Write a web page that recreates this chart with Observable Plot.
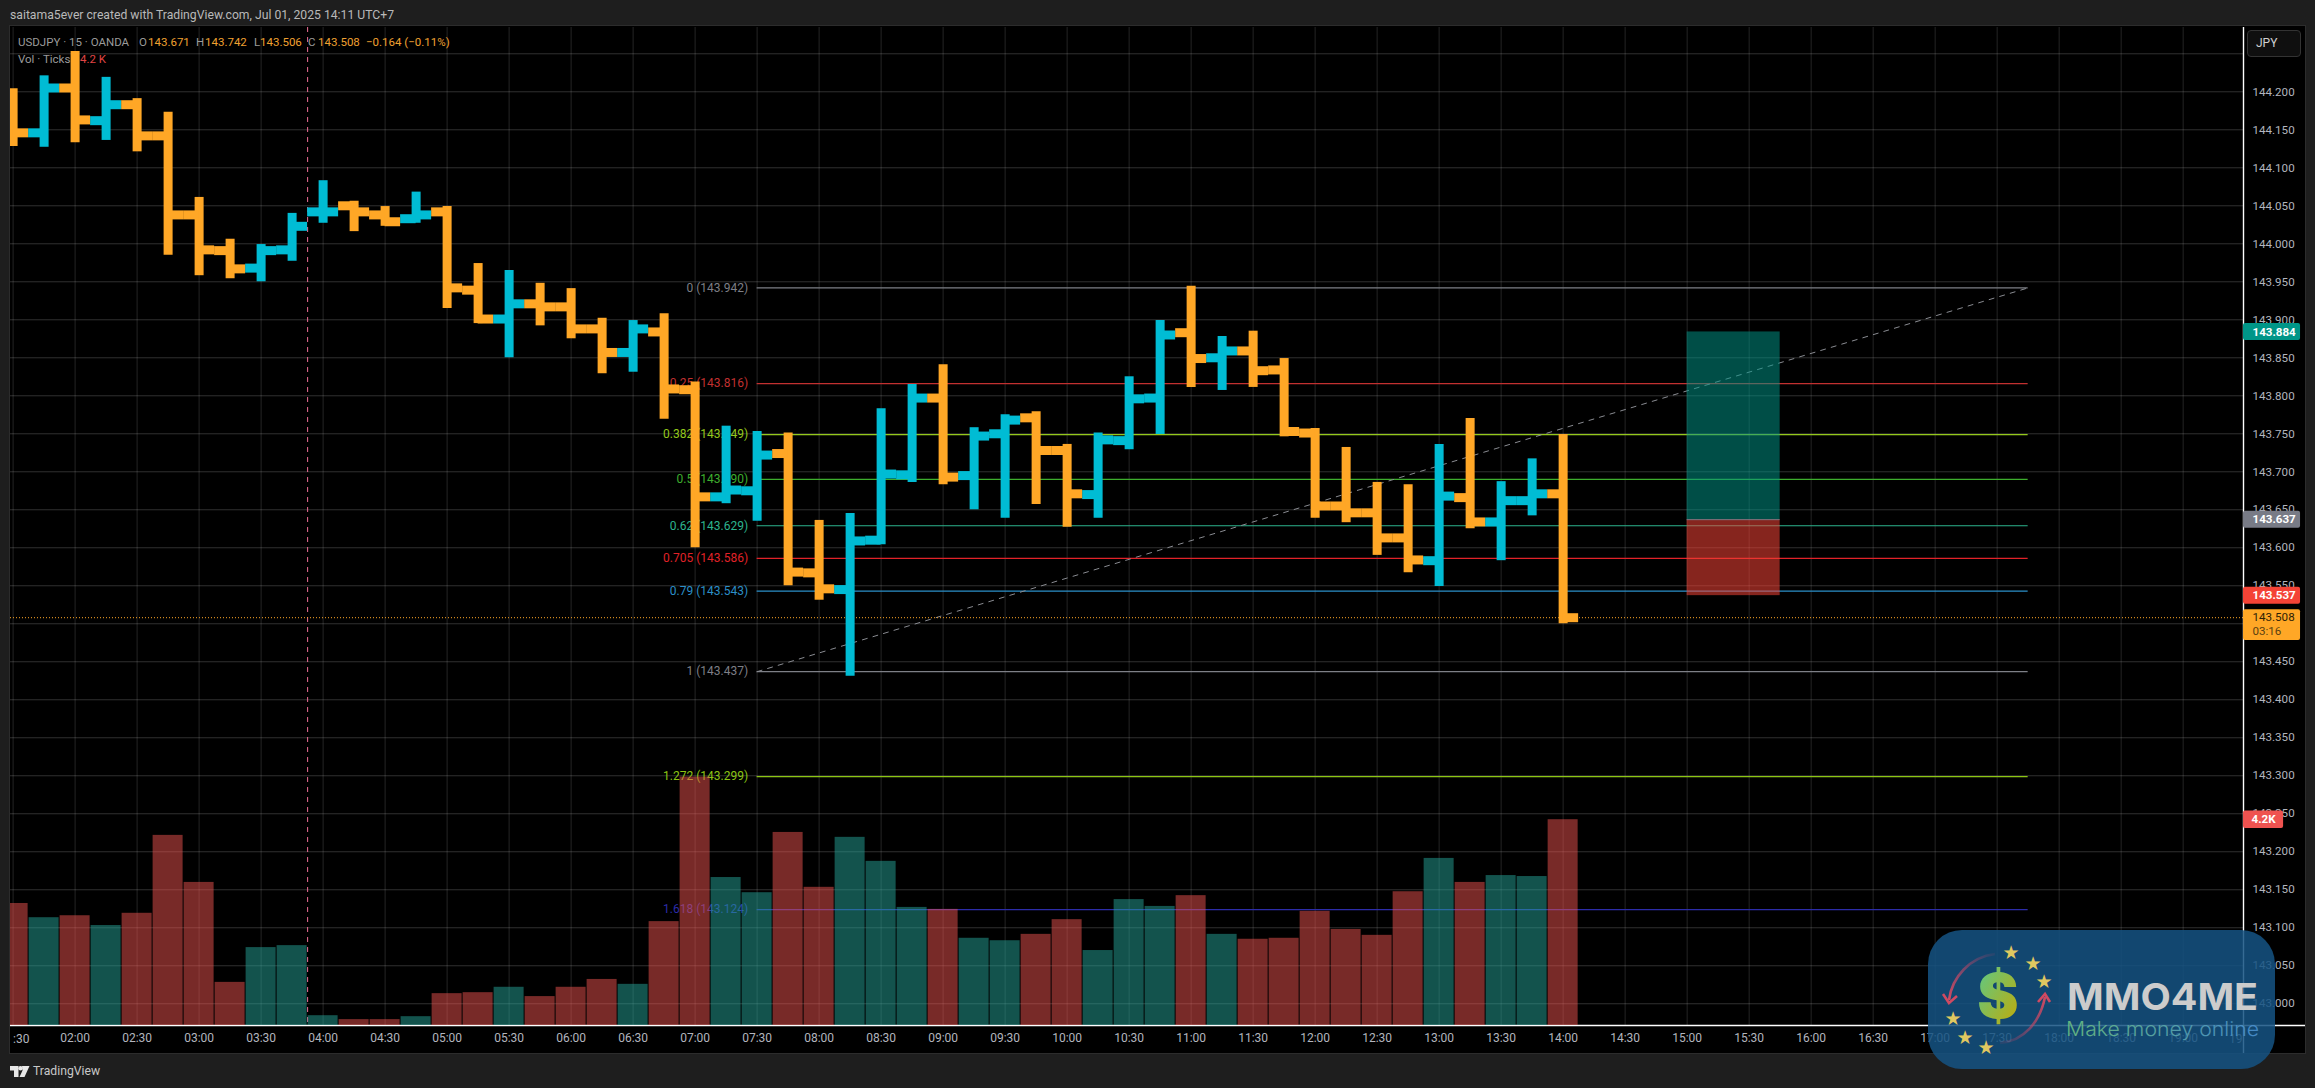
<!DOCTYPE html>
<html>
<head>
<meta charset="utf-8">
<script src="https://cdn.jsdelivr.net/npm/d3@7"></script>
<script src="https://cdn.jsdelivr.net/npm/@observablehq/plot@0.6"></script>
<style>
html,body{margin:0;padding:0;background:#1e1e1e;width:2315px;height:1088px;overflow:hidden;font-family:Roboto,sans-serif}
#head{height:26px;line-height:30px;padding-left:10px;font-size:12.2px;color:#b9b9b9;white-space:nowrap}
#wrap{position:relative;margin-left:10px;width:2295px;height:1027px;background:#000;overflow:hidden;box-shadow:0 0 0 1px #2c2c2c}
#wrap svg.plot{position:absolute;left:0;top:0;background:transparent}
.lg{position:absolute;font-size:11.5px;white-space:nowrap;line-height:14px;color:#9b9b9b}
.or{color:#f0a030}.rd{color:#e04444}
#jpy{position:absolute;left:2237px;top:4px;width:52px;height:25px;border:1px solid #333;border-radius:4px;background:#0f0f0f;color:#d0d0d0;font-size:12px;line-height:25px;text-indent:8px}
#foot{position:absolute;left:10px;top:1063px;height:16px;display:flex;align-items:center;gap:3px;color:#c8c8c8;font-size:12.2px}
#mark{position:absolute;left:1928px;top:930px;width:347px;height:139px}
</style>
</head>
<body>
<div id="head">saitama5ever created with TradingView.com, Jul 01, 2025 14:11 UTC+7</div>
<div id="wrap"></div>
<div id="foot"><svg width="20" height="11" viewBox="0 0 20 11"><path d="M0 0H8.5V11H4V4.5H0ZM12 0H19.5L14.5 11H9.5L12.5 4.5 Z" fill="#e8e8e8"/><circle cx="10.5" cy="2.2" r="2.2" fill="#e8e8e8"/></svg><span>TradingView</span></div>
<svg id="mark" viewBox="0 0 347 139">
  <defs>
    <linearGradient id="g1" x1="0" y1="0" x2="1" y2="1"><stop offset="0" stop-color="#55cc90"/><stop offset="1" stop-color="#c8a800"/></linearGradient>
    <linearGradient id="g2" x1="0" y1="0" x2="1" y2="0"><stop offset="0" stop-color="#6cc080"/><stop offset="1" stop-color="#4a8fd0"/></linearGradient>
    <linearGradient id="g3" x1="1" y1="0" x2="0" y2="1"><stop offset="0" stop-color="#c8466a" stop-opacity=".1"/><stop offset="1" stop-color="#d04a62"/></linearGradient>
    <linearGradient id="g4" x1="0" y1="1" x2="1" y2="0"><stop offset="0" stop-color="#c8466a" stop-opacity=".1"/><stop offset="1" stop-color="#d04a62"/></linearGradient>
  </defs>
  <rect width="347" height="139" rx="34" fill="#155382" fill-opacity=".86"/>
  <path d="M67 24 C42 27 24 47 21 70" fill="none" stroke="url(#g3)" stroke-width="2.6"/>
  <path d="M15 64 L21 73 L29 66" fill="none" stroke="#d04a62" stroke-width="2.6"/>
  <path d="M72 113 C96 111 112 92 117 67" fill="none" stroke="url(#g4)" stroke-width="2.6"/>
  <path d="M110 72 L117 64 L122 72" fill="none" stroke="#d04a62" stroke-width="2.6"/>
  <text x="70" y="88" text-anchor="middle" font-family="Inter,Roboto,sans-serif" font-weight="900" font-size="62" fill="url(#g1)">$</text>
  <g fill="#e0c860" font-size="19" text-anchor="middle" font-family="DejaVu Sans">
    <text x="83" y="29">★</text><text x="105" y="40">★</text><text x="116" y="58">★</text>
    <text x="25" y="95">★</text><text x="37" y="114">★</text><text x="58" y="124">★</text>
  </g>
  <text x="139" y="80" font-family="Inter,Roboto,sans-serif" font-weight="700" font-size="37" fill="#cccccc" textLength="191" lengthAdjust="spacingAndGlyphs">MMO4ME</text>
  <text x="138" y="106" font-family="Inter,Roboto,sans-serif" font-weight="300" font-size="20" fill="url(#g2)" fill-opacity=".9" textLength="193" lengthAdjust="spacingAndGlyphs">Make money online</text>
</svg>
<script>
// ---- data ----
const times = ["01:30","01:45","02:00","02:15","02:30","02:45","03:00","03:15","03:30","03:45",
  "04:00","04:15","04:30","04:45","05:00","05:15","05:30","05:45","06:00","06:15","06:30","06:45",
  "07:00","07:15","07:30","07:45","08:00","08:15","08:30","08:45","09:00","09:15","09:30","09:45",
  "10:00","10:15","10:30","10:45","11:00","11:15","11:30","11:45","12:00","12:15","12:30","12:45",
  "13:00","13:15","13:30","13:45","14:00"];
const opens = [144.153,144.146,144.205,144.162,144.183,144.142,144.038,143.991,143.968,143.992,
  144.042,144.050,144.038,144.033,144.042,143.939,143.901,143.921,143.917,143.888,143.857,143.884,
  143.808,143.667,143.675,143.724,143.567,143.545,143.610,143.696,143.797,143.695,143.750,143.771,
  143.728,143.670,143.741,143.797,143.883,143.850,143.859,143.834,143.751,143.655,143.646,143.613,
  143.583,143.666,143.634,143.662,143.671];
const highs = [144.204,144.221,144.253,144.219,144.191,144.173,144.061,144.006,143.999,144.040,
  144.083,144.056,144.049,144.068,144.049,143.974,143.965,143.948,143.941,143.902,143.899,143.908,
  143.818,143.760,143.753,143.751,143.636,143.645,143.783,143.815,143.841,143.758,143.775,143.779,
  143.736,143.751,143.825,143.899,143.944,143.878,143.885,143.849,143.757,143.732,143.686,143.683,
  143.736,143.770,143.687,143.717,143.749];
const lows = [144.128,144.127,144.133,144.136,144.121,143.985,143.958,143.954,143.950,143.977,
  144.027,144.016,144.023,144.027,143.915,143.895,143.850,143.892,143.875,143.829,143.831,143.769,
  143.600,143.658,143.635,143.550,143.531,143.431,143.604,143.686,143.683,143.650,143.639,143.657,
  143.627,143.639,143.729,143.749,143.811,143.807,143.811,143.746,143.639,143.633,143.590,143.567,
  143.549,143.625,143.583,143.642,143.500];
const closes = [144.146,144.205,144.163,144.183,144.142,144.038,143.992,143.967,143.991,144.023,
  144.042,144.042,144.029,144.038,143.942,143.901,143.921,143.917,143.888,143.857,143.888,143.809,
  143.667,143.676,143.722,143.568,143.546,143.609,143.697,143.797,143.693,143.747,143.768,143.728,
  143.671,143.742,143.796,143.880,143.849,143.859,143.833,143.753,143.655,143.646,143.613,143.584,
  143.668,143.634,143.662,143.671,143.508];
const volumes = [2.49,2.20,2.24,2.04,2.29,3.88,2.92,0.88,1.59,1.63,
  0.20,0.12,0.12,0.18,0.65,0.67,0.78,0.59,0.78,0.94,0.84,2.12,
  5.07,3.02,2.71,3.94,2.82,3.84,3.35,2.41,2.37,1.78,1.73,1.86,
  2.16,1.53,2.57,2.43,2.65,1.86,1.76,1.78,2.33,1.96,1.84,2.73,
  3.41,2.92,3.06,3.04,4.20];
const volumeUp = [0,1,0,1,0,0,0,0,1,1, 1,0,0,1,0,0,1,0,0,0,1,0, 0,1,1,0,0,1,1,1,0,1,1,0,
  0,1,1,1,0,1,0,0,0,0,0,0, 1,0,1,1,0];
const fibLabels = ["0","0.25","0.382","0.5","0.62","0.705","0.79","1","1.272","1.618"];
const fibPrices = [143.942,143.816,143.749,143.690,143.629,143.586,143.543,143.437,143.299,143.124];
const fibColors = ["#7d7f86","#c23030","#94c81c","#3eae2e","#2db48e","#e02228","#2b8fc8","#7d7f86","#8cc414","#2c2ca8"];
const tickLabels = ["02:00","02:30","03:00","03:30","04:00","04:30","05:00","05:30","06:00","06:30","07:00","07:30","08:00","08:30","09:00","09:30","10:00","10:30","11:00","11:30","12:00","12:30","13:00","13:30","14:00","14:30","15:00","15:30","16:00","16:30","17:00","17:30","18:00","18:30","19:00"];
const priceLabels = [144.2,144.15,144.1,144.05,144.0,143.95,143.9,143.85,143.8,143.75,143.7,143.65,143.6,143.55,143.5,143.45,143.4,143.35,143.3,143.25,143.2,143.15,143.1,143.05,143.0];
const extraGridPrice = 144.25;
const lastPrice = 143.508, entry = 143.637, target = 143.884, stop = 143.537;
const priceTags = [
  {p:target, fill:"#009688", text:"143.884"},
  {p:entry, fill:"#787b86", text:"143.637"},
  {p:stop, fill:"#f44336", text:"143.537"}
];
const lastVolume = 4.2;

// ---- scales ----
const mins = s => { const [h,m] = s.split(":").map(Number); return h*60+m; };
const fmt = m => d3.format("02")(Math.floor(m/60))+":"+d3.format("02")(m%60);
const W = 2295, H = 1027, mR = 62, mT = 1, mB = 28;
const xDomain = [88.74, 1169.2], yDomain = [142.9714, 144.2846];
const volDomain = [0, 998/49];
const tagEdge = 1196.8, smallTagEdge = 1188.6, panelEdge = 1199.2;
const halfBar = 7.5;
const bars = times.map((s,i)=>({t:mins(s),o:opens[i],h:highs[i],l:lows[i],c:closes[i],v:volumes[i],up:volumeUp[i],color:closes[i]>=opens[i]?"#00bcd4":"#ffa726"}));
const fibs = fibLabels.map((l,i)=>({label:`${l} (${fibPrices[i].toFixed(3)})`,p:fibPrices[i],color:fibColors[i]}));
const fibStart = mins("07:30"), fibEnd = mins("17:45");
const boxStart = mins("15:00"), boxEnd = mins("15:45");
const gridTimes = d3.range(90, 1141, 30);
const gridPrices = [extraGridPrice, ...priceLabels];
const baseStyle = {background:"transparent", fontFamily:"Roboto, sans-serif", fontSize:"12px"};
const textCol = "#b2b5be";

const price = Plot.plot({
  width:W, height:H, marginLeft:0, marginRight:mR, marginTop:mT, marginBottom:mB,
  style:baseStyle,
  x:{type:"linear",domain:xDomain}, y:{type:"linear",domain:yDomain},
  marks:[
    Plot.ruleY(gridPrices,{stroke:"#fff",strokeOpacity:.19}),
    Plot.ruleX(gridTimes,{stroke:"#fff",strokeOpacity:.14}),
    Plot.ruleX([232.5],{stroke:"#ee6d96",strokeWidth:1,strokeDasharray:"5,5"}),
    // fib lines
    Plot.ruleY(fibs,{y:"p",x1:fibStart,x2:fibEnd,stroke:"color",strokeWidth:1.2}),
    Plot.text(fibs,{x:fibStart,y:"p",text:"label",fill:"color",textAnchor:"end",dx:-9,fontSize:12}),
    Plot.line([{t:fibStart,p:fibPrices[7]},{t:fibEnd,p:fibPrices[0]}],{x:"t",y:"p",stroke:"#8a8c92",strokeWidth:1,strokeDasharray:"5,6"}),
    // position box
    Plot.rect([{}],{x1:boxStart,x2:boxEnd,y1:entry,y2:target,fill:"#009688",fillOpacity:.52}),
    Plot.rect([{}],{x1:boxStart,x2:boxEnd,y1:stop,y2:entry,fill:"#f44336",fillOpacity:.55}),
    Plot.ruleY([entry],{x1:boxStart,x2:boxEnd,stroke:"#787b86",strokeWidth:1}),
    // last price
    Plot.ruleY([lastPrice],{stroke:"#ffa726",strokeDasharray:"1,2",strokeWidth:1}),
    // OHLC bars
    Plot.ruleX(bars,{x:"t",y1:"l",y2:"h",stroke:"color",strokeWidth:9}),
    Plot.ruleY(bars,{y:"o",x1:d=>d.t-halfBar,x2:"t",stroke:"color",strokeWidth:9}),
    Plot.ruleY(bars,{y:"c",x1:"t",x2:d=>d.t+halfBar,stroke:"color",strokeWidth:9}),
    // axes
    Plot.axisY(priceLabels,{anchor:"right",tickSize:0,tickPadding:9,tickFormat:d=>d.toFixed(3),fill:textCol,label:null,fontSize:11.6}),
    Plot.axisX(tickLabels.map(mins),{anchor:"bottom",tickSize:0,tickPadding:8,tickFormat:fmt,fill:textCol,label:null}),
    Plot.text([":30"],{x:90,y:yDomain[0],text:d=>d,textAnchor:"start",dy:14,fill:textCol}),
    Plot.text(["19"],{x:xDomain[1],y:yDomain[0],text:d=>d,textAnchor:"end",dy:14,dx:-1,fill:textCol}),
    Plot.ruleX([xDomain[1]],{y1:yDomain[0]-28/760,y2:yDomain[1],stroke:"#fff",strokeWidth:1.4}),
    Plot.ruleY([yDomain[0]],{x1:xDomain[0],x2:panelEdge,stroke:"#fff",strokeWidth:1.4}),
    // price tags
    Plot.rect(priceTags,{x1:xDomain[1],x2:tagEdge,y1:d=>d.p-.0112,y2:d=>d.p+.0112,fill:"fill",rx:2}),
    Plot.text(priceTags,{x:xDomain[1],y:"p",text:"text",fill:"#fff",fontWeight:700,fontSize:11.6,textAnchor:"start",dx:9}),
    Plot.rect([lastPrice],{x1:xDomain[1],x2:tagEdge,y1:lastPrice-.0300,y2:lastPrice+.0105,fill:"#ffa726",rx:2}),
    Plot.text(["143.508"],{x:xDomain[1],y:lastPrice,text:d=>d,fill:"#2e2206",fontSize:11.6,textAnchor:"start",dx:9}),
    Plot.text(["03:16"],{x:xDomain[1],y:lastPrice,text:d=>d,fill:"#5a4010",fontSize:11.6,textAnchor:"start",dx:9,dy:14})
  ]
});
price.classList.add("plot");

const vol = Plot.plot({
  width:W, height:H, marginLeft:0, marginRight:mR, marginTop:mT, marginBottom:mB,
  style:baseStyle,
  x:{type:"linear",domain:xDomain,axis:null}, y:{type:"linear",domain:volDomain,axis:null},
  marks:[
    Plot.rect(bars,{x1:d=>d.t-halfBar,x2:d=>d.t+halfBar,y1:0,y2:"v",insetLeft:.5,insetRight:.5,fill:d=>d.up?"#26a69a":"#ef5350",fillOpacity:.5}),
    Plot.rect([lastVolume],{x1:xDomain[1],x2:smallTagEdge,y1:lastVolume-.178,y2:lastVolume+.178,fill:"#ef5350",rx:2}),
    Plot.text(["4.2K"],{x:xDomain[1],y:lastVolume,text:d=>d,fill:"#fff",fontWeight:700,fontSize:11.6,textAnchor:"start",dx:8})
  ]
});
vol.classList.add("plot");

const wrap = document.getElementById("wrap");
wrap.append(price, vol);

// chart legend and currency button, overlaid as real text
const legend = [
  [8,9,"USDJPY · 15 · OANDA",""],[129,9,"O",""],[138,9,"143.671","or"],[186,9,"H",""],[195,9,"143.742","or"],
  [244,9,"L",""],[250,9,"143.506","or"],[298,9,"C",""],[308,9,"143.508","or"],[356,9,"−0.164 (−0.11%)","or"],
  [8,26,"Vol · Ticks",""],[70,26,"4.2 K","rd"]
];
legend.forEach(([l,t,s,c])=>{
  const e=document.createElement("div"); e.className="lg "+c; e.style.left=l+"px"; e.style.top=t+"px"; e.textContent=s; wrap.append(e);
});
const j=document.createElement("div"); j.id="jpy"; j.textContent="JPY"; wrap.append(j);
</script>
</body>
</html>
